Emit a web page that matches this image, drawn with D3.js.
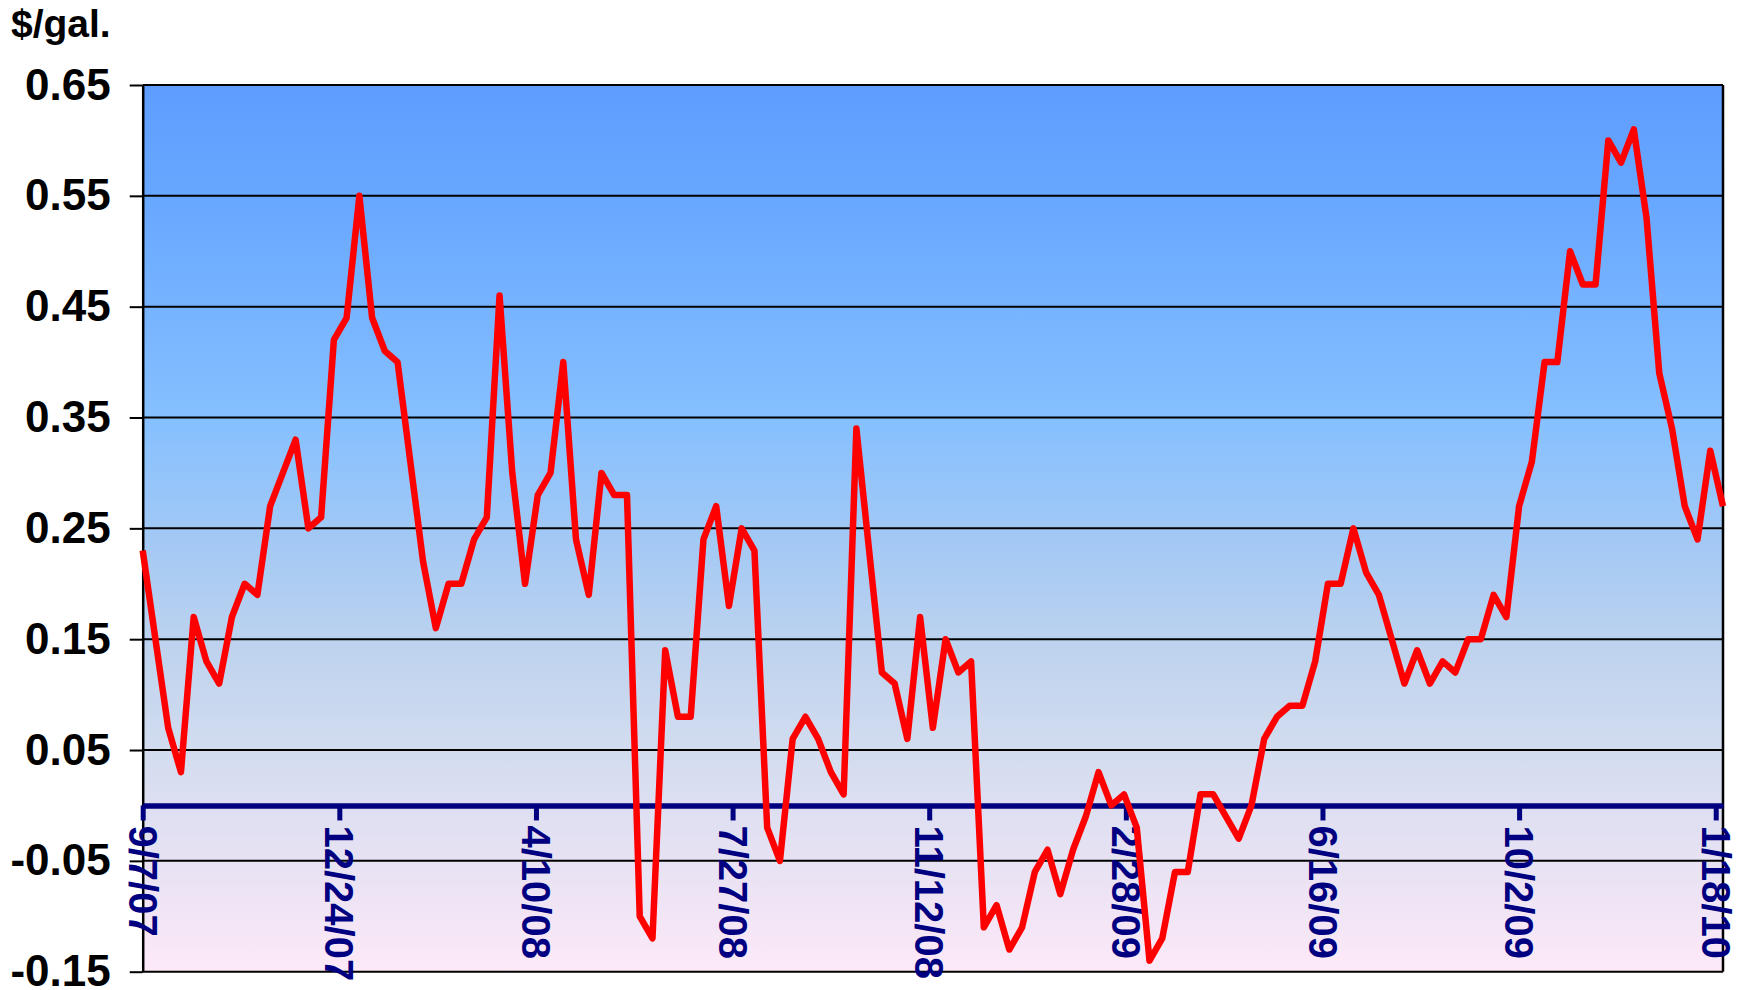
<!DOCTYPE html>
<html>
<head>
<meta charset="utf-8">
<script src="https://cdn.jsdelivr.net/npm/d3@7"></script>
<style>
html, body { margin: 0; padding: 0; background: #ffffff; }
svg { display: block; }
</style>
</head>
<body>
<svg id="chart" width="1740" height="990"></svg>
<script>
// ---- data ----
const yTitle = "$/gal.";
const firstDate = "9/7/07";          // first weekly observation
const weeklySpread = [
  0.23, 0.15, 0.07, 0.03, 0.17, 0.13, 0.11, 0.17, 0.20, 0.19,
  0.27, 0.30, 0.33, 0.25, 0.26, 0.42, 0.44, 0.55, 0.44, 0.41,
  0.40, 0.31, 0.22, 0.16, 0.20, 0.20, 0.24, 0.26, 0.46, 0.30,
  0.20, 0.28, 0.30, 0.40, 0.24, 0.19, 0.30, 0.28, 0.28, -0.10,
  -0.12, 0.14, 0.08, 0.08, 0.24, 0.27, 0.18, 0.25, 0.23, -0.02,
  -0.05, 0.06, 0.08, 0.06, 0.03, 0.01, 0.34, 0.23, 0.12, 0.11,
  0.06, 0.17, 0.07, 0.15, 0.12, 0.13, -0.11, -0.09, -0.13, -0.11,
  -0.06, -0.04, -0.08, -0.04, -0.01, 0.03, 0.00, 0.01, -0.02, -0.14,
  -0.12, -0.06, -0.06, 0.01, 0.01, -0.01, -0.03, 0.00, 0.06, 0.08,
  0.09, 0.09, 0.13, 0.20, 0.20, 0.25, 0.21, 0.19, 0.15, 0.11,
  0.14, 0.11, 0.13, 0.12, 0.15, 0.15, 0.19, 0.17, 0.27, 0.31,
  0.40, 0.40, 0.50, 0.47, 0.47, 0.60, 0.58, 0.61, 0.53, 0.39,
  0.34, 0.27, 0.24, 0.32, 0.27
];
const xTickLabels = ["9/7/07", "12/24/07", "4/10/08", "7/27/08", "11/12/08",
                     "2/28/09", "6/16/09", "10/2/09", "1/18/10"];
const yTickValues = [0.65, 0.55, 0.45, 0.35, 0.25, 0.15, 0.05, -0.05, -0.15];

// ---- layout ----
const plot = { left: 142.7, right: 1723, top: 85, bottom: 971.7 };
const FONT = "'Liberation Sans', Arial, Helvetica, sans-serif";

const parse = d3.utcParse("%m/%d/%y");
const start = parse(firstDate);
const dates = weeklySpread.map((v, i) => d3.utcDay.offset(start, 7 * i));
const tickDates = xTickLabels.map(parse);

const x = d3.scaleUtc()
  .domain([dates[0], dates[dates.length - 1]])
  .range([plot.left, plot.right]);
const y = d3.scaleLinear()
  .domain([-0.15, 0.65])
  .range([plot.bottom, plot.top]);

const svg = d3.select("#chart");

// background gradient
const defs = svg.append("defs");
const grad = defs.append("linearGradient")
  .attr("id", "bg").attr("x1", 0).attr("y1", 0).attr("x2", 0).attr("y2", 1);
[
  [0.00, "#5e9dff"],
  [0.15, "#6aa9ff"],
  [0.38, "#86c0ff"],
  [0.52, "#a4c9f4"],
  [0.64, "#bfd3ee"],
  [0.75, "#d2dcef"],
  [0.81, "#dcdff1"],
  [0.90, "#ebe3f4"],
  [1.00, "#fde9f8"]
].forEach(([o, c]) => grad.append("stop").attr("offset", o).attr("stop-color", c));

svg.append("rect")
  .attr("x", plot.left).attr("y", plot.top)
  .attr("width", plot.right - plot.left)
  .attr("height", plot.bottom - plot.top)
  .attr("fill", "url(#bg)");

// horizontal gridlines
svg.append("g")
  .selectAll("line")
  .data(yTickValues)
  .join("line")
  .attr("x1", plot.left).attr("x2", plot.right)
  .attr("y1", d => y(d)).attr("y2", d => y(d))
  .attr("stroke", "#000").attr("stroke-width", 2);

// right border
svg.append("line")
  .attr("x1", plot.right).attr("x2", plot.right)
  .attr("y1", plot.top).attr("y2", plot.bottom)
  .attr("stroke", "#000").attr("stroke-width", 2.5);

// y axis
const yAxis = svg.append("g")
  .attr("transform", `translate(${plot.left},0)`)
  .call(d3.axisLeft(y)
    .tickValues(yTickValues)
    .tickFormat(d => d.toFixed(2))
    .tickSize(13)
    .tickSizeOuter(0)
    .tickPadding(19));
yAxis.select(".domain").attr("stroke", "#000").attr("stroke-width", 2.5);
yAxis.selectAll(".tick line").attr("stroke", "#000").attr("stroke-width", 2);
yAxis.selectAll(".tick text")
  .attr("fill", "#000")
  .style("font-family", FONT)
  .style("font-size", "44px")
  .style("font-weight", "bold");

// x axis along zero line
const xAxis = svg.append("g")
  .attr("transform", `translate(0,${y(0)})`)
  .call(d3.axisBottom(x)
    .tickValues(tickDates)
    .tickFormat((d, i) => xTickLabels[i])
    .tickSize(15)
    .tickSizeOuter(0));
xAxis.select(".domain").attr("stroke", "#000080").attr("stroke-width", 5.5);
xAxis.selectAll(".tick line").attr("stroke", "#000080").attr("stroke-width", 5);
xAxis.selectAll(".tick text")
  .attr("y", 0)
  .attr("x", 20)
  .attr("dy", "0.36em")
  .attr("transform", "rotate(90)")
  .attr("fill", "#000080")
  .style("text-anchor", "start")
  .style("font-family", FONT)
  .style("font-size", "40px")
  .style("font-weight", "bold");

// title
svg.append("text")
  .attr("x", 11).attr("y", 37)
  .attr("fill", "#000")
  .style("font-family", FONT)
  .style("font-size", "39px")
  .style("font-weight", "bold")
  .text(yTitle);

// series line
const line = d3.line()
  .x((d, i) => x(dates[i]))
  .y(d => y(d));
svg.append("path")
  .datum(weeklySpread)
  .attr("d", line)
  .attr("fill", "none")
  .attr("stroke", "#ff0000")
  .attr("stroke-width", 6.5)
  .attr("stroke-linejoin", "round")
  .attr("stroke-linecap", "butt");
</script>
</body>
</html>
